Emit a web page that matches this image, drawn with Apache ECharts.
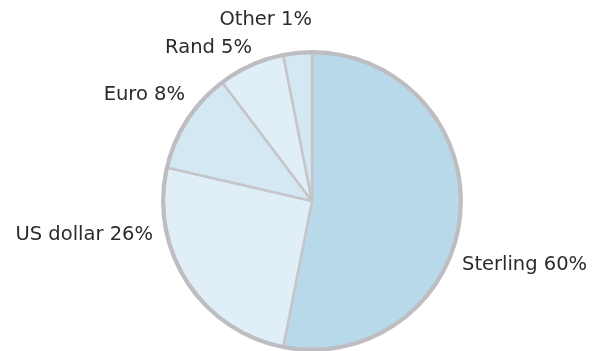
<!DOCTYPE html>
<html>
<head>
<meta charset="utf-8">
<script src="https://cdn.jsdelivr.net/npm/echarts@6/dist/echarts.min.js"></script>
<style>html,body{margin:0;padding:0;background:#fff}#c{width:600px;height:351px}</style>
</head>
<body>
<div id="c"></div>
<script>
// Data
var categories = ['Sterling', 'US dollar', 'Euro', 'Rand', 'Other'];
var sliceValues = [53.1, 25.5, 11.1, 7.2, 3.1];      // drawn slice sizes
var labelPercents = [60, 26, 8, 5, 1];               // printed percentages
var sliceColors = ['#b8d9ea', '#e0eff7', '#d3e8f3', '#e0eff7', '#d3e8f3'];

// Label placement (layout only)
var labelPlace = [
  {x: 462, y: 265, align: 'left'},
  {x: 153, y: 235, align: 'right'},
  {x: 185, y: 95,  align: 'right'},
  {x: 252, y: 48,  align: 'right'},
  {x: 312, y: 20,  align: 'right'}
];

var pieData = categories.map(function (c, i) {
  return {name: c, value: sliceValues[i], pct: labelPercents[i], itemStyle: {color: sliceColors[i]}};
});

var chart = echarts.init(document.getElementById('c'));
chart.setOption({
  animation: false,
  series: [{
    type: 'pie',
    center: [312, 201],
    radius: 148,
    startAngle: 90,
    clockwise: true,
    data: pieData,
    itemStyle: {borderColor: '#c6c6ca', borderWidth: 2.5},
    label: {
      show: true,
      position: 'outside',
      fontFamily: 'DejaVu Sans',
      fontSize: 19.5,
      color: '#2b2b2b',
      overflow: 'none',
      width: 300,
      formatter: function (p) { return p.name + ' ' + p.data.pct + '%'; }
    },
    labelLine: {show: false},
    labelLayout: function (params) {
      var lp = labelPlace[params.dataIndex];
      return {x: lp.x, y: lp.y, align: lp.align, verticalAlign: 'middle', hideOverlap: false};
    },
    emphasis: {disabled: true}
  }, {
    type: 'pie',
    center: [312, 201],
    radius: [147, 151],
    silent: true,
    z: 5,
    data: [{value: 1, itemStyle: {color: '#bebec2'}}],
    label: {show: false},
    labelLine: {show: false},
    itemStyle: {borderWidth: 0}
  }]
});
</script>
</body>
</html>
